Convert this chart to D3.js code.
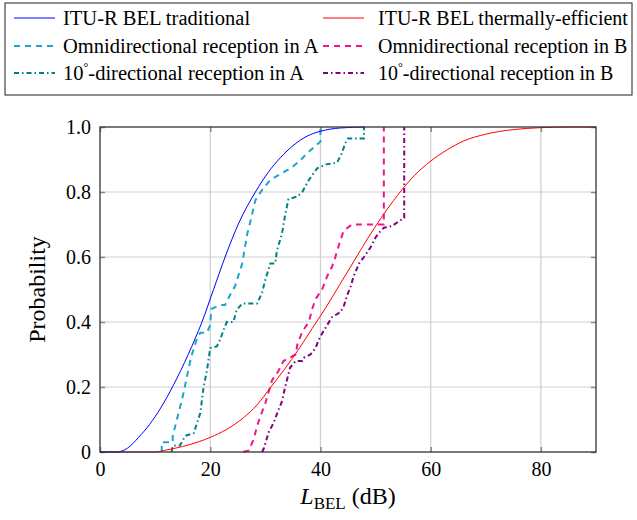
<!DOCTYPE html>
<html>
<head>
<meta charset="utf-8">
<script src="https://cdn.jsdelivr.net/npm/d3@7"></script>
<style>
  body { margin: 0; background: #fff; }
  text { font-family: "Liberation Serif", "Times New Roman", serif; }
</style>
</head>
<body>
<svg id="chart" width="637" height="520"></svg>
<script>
// DATA: [L_BEL in dB, probability]
const ituTraditional = [
  [0, 0], [3, 0], [5, 0.012], [7, 0.045], [9, 0.085], [11, 0.135], [13.3, 0.205], [16, 0.3],
  [18.5, 0.4], [20.6, 0.5], [22.7, 0.6], [25.2, 0.705], [28.2, 0.8], [30.5, 0.86],
  [32.7, 0.905], [35.2, 0.945], [37.6, 0.972], [40, 0.987], [43.6, 0.997], [48, 1.0]
];
const ituThermal = [
  [0, 0], [10, 0], [12, 0.006], [15, 0.017], [18, 0.032], [20, 0.045], [23, 0.07],
  [26, 0.105], [28.5, 0.145], [31, 0.2], [33.5, 0.255], [36, 0.315], [38.5, 0.38],
  [41, 0.445], [43.5, 0.515], [46, 0.585], [48.5, 0.655], [51, 0.72], [54, 0.79],
  [57, 0.85], [60, 0.895], [63, 0.93], [66, 0.957], [70, 0.978], [75, 0.992],
  [80, 0.998], [85, 1.0], [90, 1.0]
];
const omniA = [
  [11.2, 0], [11.2, 0.03], [13.2, 0.03], [13.2, 0.05], [15, 0.17], [16.5, 0.29], [17.6, 0.35],
  [18.2, 0.367], [19.4, 0.367], [20, 0.39], [20.2, 0.44], [21.8, 0.452], [22.7, 0.452],
  [23.5, 0.48], [24.5, 0.51], [25.8, 0.58], [26.7, 0.67], [27.3, 0.71], [28.2, 0.775],
  [29.4, 0.806], [30.9, 0.837], [32.7, 0.855], [34.8, 0.875], [36.5, 0.9], [37.6, 0.92],
  [39, 0.94], [40, 0.955], [40, 1.0]
];
const dirA = [
  [13, 0], [13.2, 0.02], [14.5, 0.02], [15.5, 0.05], [17, 0.058], [18.2, 0.12], [18.8, 0.2],
  [19.4, 0.25], [20, 0.32], [21.2, 0.325], [21.8, 0.345], [22.4, 0.375], [23, 0.40],
  [24.2, 0.40], [24.8, 0.437], [25.8, 0.457], [28.5, 0.457], [29.4, 0.49], [30, 0.53],
  [30.9, 0.58], [31.8, 0.58], [32.1, 0.62], [33, 0.67], [33.6, 0.73], [34.2, 0.778],
  [35.8, 0.786], [36.7, 0.80], [37.9, 0.837], [39.4, 0.873], [41, 0.885], [43, 0.89],
  [43.9, 0.92], [44.5, 0.95], [45, 0.965], [47.9, 0.965], [47.9, 1.0]
];
const omniB = [
  [26, 0], [27, 0.005], [27.9, 0.04], [28.5, 0.08], [29.1, 0.11], [30, 0.15], [31.2, 0.22],
  [32.4, 0.25], [33.3, 0.28], [35.5, 0.30], [35.8, 0.33], [36.7, 0.37], [37.9, 0.40],
  [38.5, 0.44], [39.1, 0.47], [40.3, 0.50], [41.2, 0.54], [42.1, 0.57], [42.7, 0.60],
  [43.6, 0.65], [44.2, 0.68], [45.7, 0.70], [51.5, 0.70], [51.5, 1.0]
];
const dirB = [
  [29.4, 0], [29.7, 0.01], [30.6, 0.06], [31.5, 0.09], [32.4, 0.13], [33, 0.155], [33.6, 0.2],
  [33.9, 0.22], [34.5, 0.26], [35.5, 0.28], [36.7, 0.28], [37, 0.29], [38.2, 0.30],
  [39.1, 0.32], [39.7, 0.345], [40.3, 0.365], [41.2, 0.39], [42.1, 0.415], [43.6, 0.43],
  [44.2, 0.447], [44.8, 0.48], [45.5, 0.51], [46, 0.54], [47, 0.58], [47.9, 0.60],
  [49.1, 0.63], [50, 0.66], [50.9, 0.68], [51.5, 0.69], [53, 0.695], [54.2, 0.71],
  [55.2, 0.72], [55.2, 1.0]
];

const xTicks = [0, 20, 40, 60, 80];
const yTicks = [0, 0.2, 0.4, 0.6, 0.8, 1.0];

const seriesNames = [
  "ITU-R BEL traditional", "ITU-R BEL thermally-efficient",
  "Omnidirectional reception in A", "Omnidirectional reception in B",
  "°-directional reception in A", "°-directional reception in B"
];

// styles per series
const styles = [
  { data: ituTraditional, color: "#0000ff", width: 1, dash: null, smooth: true },
  { data: ituThermal, color: "#ff0000", width: 1, dash: null, smooth: true },
  { data: omniA, color: "#1aa6cc", width: 2, dash: "6,5", smooth: false },
  { data: omniB, color: "#f2148c", width: 2, dash: "6,5", smooth: false },
  { data: dirA, color: "#008080", width: 2, dash: "5,3,1.5,3", smooth: false },
  { data: dirB, color: "#800080", width: 2, dash: "5,3,1.5,3", smooth: false }
];

// CANVAS SETUP
const svg = d3.select("#chart");
const margin = { top: 127, right: 41, bottom: 68, left: 100 },
  width = 637 - margin.left - margin.right,
  height = 520 - margin.top - margin.bottom;

const x = d3.scaleLinear().domain([0, 90]).range([0, width]);
const y = d3.scaleLinear().domain([0, 1]).range([height, 0]);

const g = svg.append("g").attr("transform", `translate(${margin.left},${margin.top})`);

// grid
g.append("g")
  .selectAll("line")
  .data(xTicks.filter((d) => d > 0))
  .join("line")
  .attr("x1", (d) => x(d)).attr("x2", (d) => x(d))
  .attr("y1", 0).attr("y2", height)
  .attr("stroke", "#cfcfcf").attr("stroke-width", 1.2);
g.append("g")
  .selectAll("line")
  .data(yTicks.filter((d) => d > 0 && d < 1))
  .join("line")
  .attr("x1", 0).attr("x2", width)
  .attr("y1", (d) => y(d)).attr("y2", (d) => y(d))
  .attr("stroke", "#cfcfcf").attr("stroke-width", 1.2);

// axes (ticks pointing inward, on both sides)
const xAxis = g.append("g")
  .attr("transform", `translate(0,${height})`)
  .call(d3.axisBottom(x).tickValues(xTicks).tickSize(-5).tickPadding(10).tickFormat(d3.format("d")));
const xAxisTop = g.append("g")
  .call(d3.axisTop(x).tickValues(xTicks).tickSize(-5).tickFormat(""));
const yAxis = g.append("g")
  .call(d3.axisLeft(y).tickValues(yTicks).tickSize(-5).tickPadding(9)
    .tickFormat((d) => (d === 0 ? "0" : d3.format(".1f")(d))));
const yAxisRight = g.append("g")
  .attr("transform", `translate(${width},0)`)
  .call(d3.axisRight(y).tickValues(yTicks).tickSize(-5).tickFormat(""));

[xAxis, xAxisTop, yAxis, yAxisRight].forEach((a) => {
  a.select(".domain").remove();
  a.selectAll(".tick line").attr("stroke", "#888").attr("stroke-width", 1.5);
  a.selectAll("text")
    .attr("fill", "#000")
    .style("font-family", '"Liberation Serif", serif')
    .style("font-size", "20px");
});

// curves
const line = d3.line().x((d) => x(d[0])).y((d) => y(d[1]));
const smoothLine = d3.line().x((d) => x(d[0])).y((d) => y(d[1])).curve(d3.curveMonotoneX);

const curves = g.append("g");
// step data first, smooth ITU curves on top
[2, 4, 3, 5, 1, 0].forEach((i) => {
  const s = styles[i];
  curves.append("path")
    .datum(s.data)
    .attr("d", s.smooth ? smoothLine : line)
    .attr("fill", "none")
    .attr("stroke", s.color)
    .attr("stroke-width", s.width)
    .attr("stroke-dasharray", s.dash)
    .attr("stroke-linejoin", "miter");
});

// frame
g.append("rect")
  .attr("width", width).attr("height", height)
  .attr("fill", "none").attr("stroke", "#333").attr("stroke-width", 1.3);

// axis labels
svg.append("text")
  .attr("transform", `translate(45,${margin.top + height / 2}) rotate(-90)`)
  .attr("text-anchor", "middle")
  .style("font-size", "24px")
  .text("Probability");

const xl = svg.append("text")
  .attr("x", margin.left + width / 2)
  .attr("y", 504)
  .attr("text-anchor", "middle")
  .style("font-size", "24px");
xl.append("tspan").style("font-style", "italic").text("L");
xl.append("tspan").attr("dy", 5).style("font-size", "17px").text("BEL");
xl.append("tspan").attr("dy", -5).text(" (dB)");

// LEGEND
const lg = svg.append("g");
lg.append("rect")
  .attr("x", 5).attr("y", 3).attr("width", 627).attr("height", 92)
  .attr("fill", "#fff").attr("stroke", "#444").attr("stroke-width", 1.2);

const legendCols = [{ lx: 14, tx: 63 }, { lx: 323, tx: 378 }];
const legendRows = [18, 46, 73];

styles.forEach((s, i) => {
  const c = legendCols[i % 2], r = legendRows[Math.floor(i / 2)];
  lg.append("line")
    .attr("x1", c.lx).attr("x2", c.lx + 41)
    .attr("y1", r).attr("y2", r)
    .attr("stroke", s.color)
    .attr("stroke-width", s.width)
    .attr("stroke-dasharray", s.dash);
  const t = lg.append("text")
    .attr("x", c.tx)
    .attr("y", r + 7)
    .style("font-size", i % 2 ? "20px" : "20.5px");
  if (i >= 4) {
    t.append("tspan").text("10");
    t.append("tspan").attr("dy", -9).style("font-size", "12px").text("°");
    t.append("tspan").attr("dy", 9).text(seriesNames[i].slice(1));
  } else {
    t.text(seriesNames[i]);
  }
});
</script>
</body>
</html>
